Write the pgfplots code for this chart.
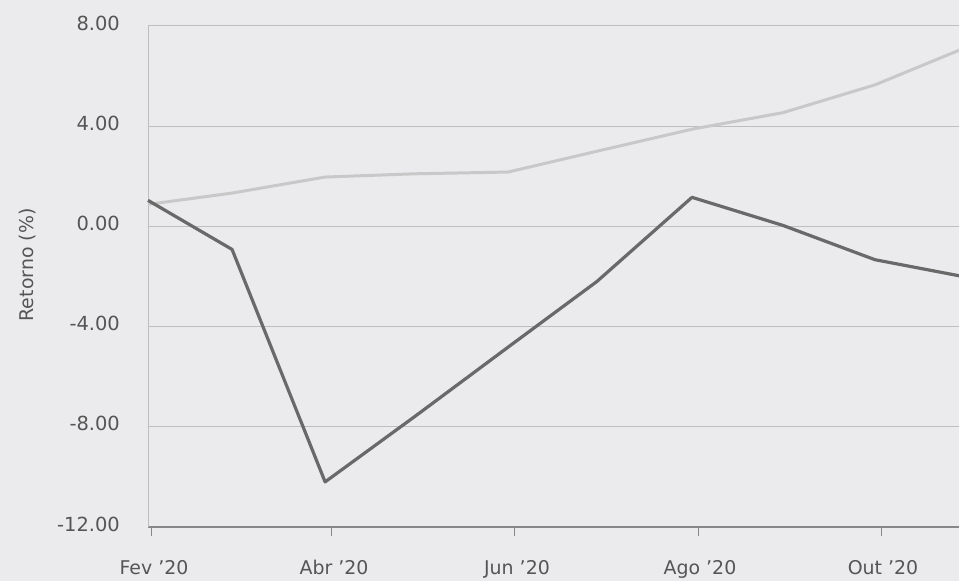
\documentclass[border=0pt]{standalone}
\usepackage{fontspec}
\setmainfont{DejaVu Sans}
\usepackage{pgfplots}
\pgfplotsset{compat=1.18}
\definecolor{bgc}{RGB}{235,235,237}
\definecolor{gridc}{RGB}{190,190,190}
\definecolor{axisdark}{RGB}{135,135,135}
\definecolor{darkline}{RGB}{105,105,105}
\definecolor{lightline}{RGB}{200,200,200}
\definecolor{textc}{RGB}{85,85,85}
\begin{document}
\begin{tikzpicture}
\useasboundingbox (0,0) rectangle (959bp,581bp);
\fill[bgc] (0,0) rectangle (959bp,581bp);
\begin{axis}[
  at={(148bp,54bp)}, anchor=south west,
  width=811bp, height=501bp, scale only axis,
  xmin=-1.33, xmax=269, ymin=-12, ymax=8,
  axis lines*=left,
  x axis line style={color=axisdark, line width=2.5bp},
  y axis line style={color=gridc, line width=1bp},
  ymajorgrids, grid style={color=gridc, line width=1bp},
  xtick={0,60,121,182,243},
  xticklabels={Fev '20, Abr '20, Jun '20, Ago '20, Out '20},
  ytick={-12,-8,-4,0,4,8},
  yticklabels={-12.00,-8.00,-4.00,0.00,4.00,8.00},
  tick align=outside, major tick length=9bp,
  xtick style={color=axisdark, line width=1bp},
  ytick style={draw=none},
  xticklabel style={font=\fontsize{19}{22}\selectfont, text=textc, inner sep=0pt, anchor=north, yshift=-24bp, xshift=2bp},
  yticklabel style={font=\fontsize{19.5}{22}\selectfont, text=textc, inner sep=0pt, anchor=east, xshift=-19bp, yshift=3bp},
  ylabel={Retorno (\%)},
  ylabel style={font=\fontsize{19}{22}\selectfont, text=textc, at={(axis description cs:-0.149,0.523)}, rotate=0, anchor=center, inner sep=0pt},
  clip=false,
]
\addplot[color=lightline, line width=3bp, line join=round] coordinates {
(-1.33,0.88) (26.7,1.33) (57.7,1.97) (87.7,2.10) (118.7,2.17) (148.3,3.00)
(180,3.88) (210.3,4.54) (241,5.65) (269,7.03)
};
\addplot[color=darkline, line width=3.2bp, line join=round] coordinates {
(-1.33,1.04) (26.7,-0.92) (57.7,-10.2) (87.7,-7.58) (118.7,-4.82) (148.3,-2.2)
(180,1.16) (210.3,0.04) (241,-1.33) (269,-1.97)
};
\end{axis}
\end{tikzpicture}
\end{document}
